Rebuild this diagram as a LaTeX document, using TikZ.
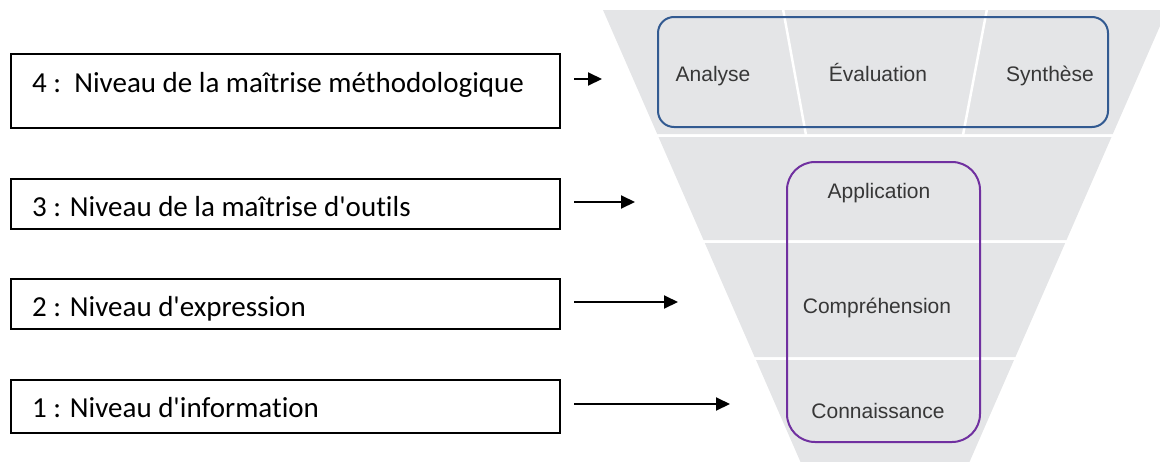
\documentclass[tikz,border=0pt]{standalone}
\usepackage{fontspec}
\setmainfont{Carlito}[Ligatures=NoCommon]
\newfontfamily\pyrfont{Liberation Sans}
\usetikzlibrary{arrows.meta}
\definecolor{pyrgray}{RGB}{228,229,231}
\definecolor{pyrtext}{RGB}{55,55,55}
\definecolor{boxblue}{RGB}{50,90,145}
\definecolor{boxpurple}{RGB}{112,48,160}
\tikzset{
  lbox/.style={draw=black, line width=2pt, minimum width=549pt, anchor=north west, inner sep=0pt},
  ltext/.style={anchor=base west, inner sep=0pt, font=\fontsize{29}{32}\selectfont},
  ptext/.style={anchor=base, inner sep=0pt, text=pyrtext, font=\pyrfont\fontsize{21}{24}\selectfont},
  band/.style={fill=pyrgray, draw=none},
  conn/.style={line width=2pt, -{Triangle[length=14pt,width=13pt]}},
  divider/.style={draw=white, line width=2.5pt},
}
\begin{document}
\begin{tikzpicture}[x=1pt,y=-1pt]
\useasboundingbox (0,0) rectangle (1160,461);
% inverted pyramid
\begin{scope}
\clip (0,0) rectangle (1160,461);
\fill[band] (603,10) -- (1167,10) -- (1112.8,134) -- (657.2,134) -- cycle;
\fill[band] (658.5,137) -- (1111.5,137) -- (1066.5,240) -- (703.5,240) -- cycle;
\fill[band] (704.8,243) -- (1065.2,243) -- (1015.4,357) -- (754.6,357) -- cycle;
\fill[band] (756,360) -- (1014,360) -- (966,470) -- (804,470) -- cycle;
\draw[divider] (783,9) -- (806,135);
\draw[divider] (987,9) -- (963,135);
\end{scope}
% grouping boxes
\draw[draw=boxblue, line width=2pt, rounded corners=16pt] (658,17) rectangle (1108,127);
\draw[draw=boxpurple, line width=2pt, rounded corners=28pt] (787,162) rectangle (980,442);
% pyramid labels
\node[ptext] (analyse) at (713,81) {Analyse};
\node[ptext] (evaluation) at (878,81) {Évaluation};
\node[ptext] (synthese) at (1050,81) {Synthèse};
\node[ptext] (application) at (879,198) {Application};
\node[ptext] (comprehension) at (877,313) {Compréhension};
\node[ptext] (connaissance) at (878,418) {Connaissance};
% level boxes
\node[lbox, minimum height=74pt] (b4) at (10,53) {};
\node[lbox, minimum height=50pt] (b3) at (10,178) {};
\node[lbox, minimum height=50pt] (b2) at (10,278) {};
\node[lbox, minimum height=53pt] (b1) at (10,379) {};
\node[ltext] (t4) at (32,92) {4 :\ \ Niveau de la maîtrise méthodologique};
\node[ltext] (t3) at (32,216) {3 : Niveau de la maîtrise d\textquotesingle outils};
\node[ltext] (t2) at (32,316) {2 : Niveau d\textquotesingle expression};
\node[ltext] (t1) at (32,417) {1 : Niveau d\textquotesingle information};
% arrows
\coordinate (s4) at (574,79);  \coordinate (e4) at (602,79);
\coordinate (s3) at (574,202); \coordinate (e3) at (635,202);
\coordinate (s2) at (574,302); \coordinate (e2) at (678,302);
\coordinate (s1) at (574,404); \coordinate (e1) at (730,404);
\draw[conn] (s4) -- (e4);
\draw[conn] (s3) -- (e3);
\draw[conn] (s2) -- (e2);
\draw[conn] (s1) -- (e1);
\end{tikzpicture}
\end{document}
